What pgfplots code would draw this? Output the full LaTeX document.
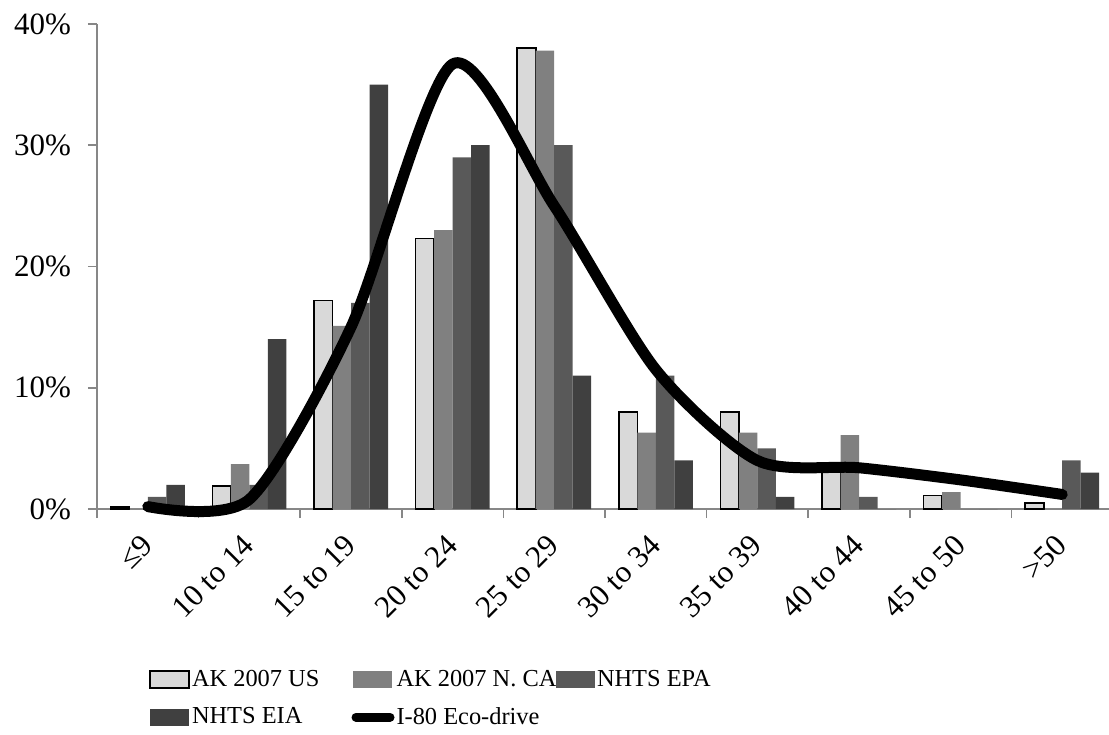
\documentclass[border=0pt]{standalone}
\usepackage{fontspec}
\setmainfont{Liberation Serif}
\usepackage{pgfplots}
\pgfplotsset{compat=1.18}
\definecolor{cUS}{HTML}{D9D9D9}
\definecolor{cCA}{HTML}{808080}
\definecolor{cEPA}{HTML}{595959}
\definecolor{cEIA}{HTML}{404040}
\definecolor{axisgrey}{HTML}{878787}
\begin{document}
\begin{tikzpicture}
\path[use as bounding box] (0,0) rectangle (554.5pt,367pt);
\begin{axis}[
  at={(48.5pt,112.5pt)}, anchor=south west,
  width=508pt, height=242.5pt, scale only axis,
  xmin=-0.5, xmax=9.5, ymin=0, ymax=40,
  clip=false,
  axis x line*=bottom, axis y line*=left,
  axis line style={axisgrey, line width=0.8pt},
  tick style={axisgrey, line width=0.8pt},
  tick align=outside, major tick length=4.5pt,
  xtick={-0.5,0.5,...,9.5}, x tick label as interval,
  xticklabels={≤9,10 to 14,15 to 19,20 to 24,25 to 29,30 to 34,35 to 39,40 to 44,45 to 50,>50},
  x tick label style={xshift=-4pt, yshift=-2.5pt, rotate=45, anchor=north east, font=\fontsize{15.5}{18}\selectfont},
  ytick={0,10,20,30,40},
  yticklabel={\pgfmathprintnumber{\tick}\%},
  y tick label style={xshift=-5pt, font=\fontsize{15.5}{18}\selectfont},
  /pgf/number format/assume math mode=true,
  legend columns=3,
  legend style={at={(0.0512,-0.327)}, anchor=north west, draw=none, fill=none,
    font=\fontsize{12.2}{15}\selectfont, row sep=7pt, inner sep=0pt,
    /tikz/every even column/.append style={column sep=0pt},
    nodes={inner sep=1pt}},
]
\addplot[ybar, bar width=9.25pt, bar shift=-13.875pt, fill=cUS, draw=black, line width=0.8pt,
  legend image code/.code={\draw[fill=cUS, draw=black, line width=0.8pt] (0pt,-4.25pt) rectangle (19.5pt,4.25pt);}]
  coordinates {(0,0.15)(1,1.9)(2,17.2)(3,22.3)(4,38)(5,8)(6,8)(7,3.3)(8,1.1)(9,0.5)};
\addlegendentry{\makebox[78.75pt][l]{AK 2007 US}}
\addplot[ybar, bar width=9.25pt, bar shift=-4.625pt, fill=cCA, draw=none,
  legend image code/.code={\fill[cCA] (0pt,-4.25pt) rectangle (19.5pt,4.25pt);}]
  coordinates {(0,0)(1,3.7)(2,15.1)(3,23)(4,37.8)(5,6.3)(6,6.3)(7,6.1)(8,1.4)(9,0)};
\addlegendentry{\makebox[78.75pt][l]{AK 2007 N. CA}}
\addplot[ybar, bar width=9.25pt, bar shift=4.625pt, fill=cEPA, draw=none,
  legend image code/.code={\fill[cEPA] (0pt,-4.25pt) rectangle (19.5pt,4.25pt);}]
  coordinates {(0,1)(1,2)(2,17)(3,29)(4,30)(5,11)(6,5)(7,1)(8,0)(9,4)};
\addlegendentry{\makebox[78.75pt][l]{NHTS EPA}}
\addplot[ybar, bar width=9.25pt, bar shift=13.875pt, fill=cEIA, draw=none,
  legend image code/.code={\fill[cEIA] (0pt,-4.25pt) rectangle (19.5pt,4.25pt);}]
  coordinates {(0,2)(1,14)(2,35)(3,30)(4,11)(5,4)(6,1)(7,0)(8,0)(9,3)};
\addlegendentry{\makebox[78.75pt][l]{NHTS EIA}}
\addplot[black, line width=5.5pt, smooth, tension=0.45, line cap=round, line join=round, mark=none,
  legend image code/.code={\draw[black, line width=4.5pt, line cap=round] (1.5pt,0pt) -- (18.5pt,0pt);}]
  coordinates {(0,0.2)(1,0.8)(2,15)(3,36.7)(4,25)(5,11.5)(6,4)(7,3.4)(8,2.4)(9,1.2)};
\addlegendentry{\makebox[78.75pt][l]{I-80 Eco-drive}}
\end{axis}
\end{tikzpicture}
\end{document}
